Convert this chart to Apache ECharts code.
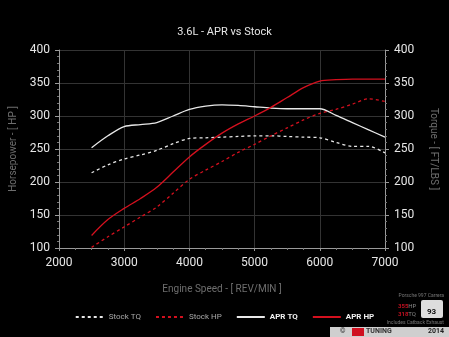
<!DOCTYPE html>
<html>
<head>
<meta charset="utf-8">
<script src="https://cdn.jsdelivr.net/npm/echarts@6/dist/echarts.min.js"></script>
<style>
html,body{margin:0;padding:0;background:#000;}
#dyno{width:449px;height:337px;}
</style>
</head>
<body>
<div id="dyno"></div>
<script>
var rpm      = [2500,2750,3000,3250,3500,3750,4000,4250,4500,4750,5000,5250,5500,5750,6000,6250,6500,6750,7000];
var stockTQ  = [214,226,235,241,248,258,266,267,268,269,270,270,269,268,267,260,254,254,244];
var stockHP  = [101,117,132,147,162,183,204,218,231,245,257,270,282,294,304,310,318,326,322];
var aprTQ    = [252,270,284,287,290,300,310,315,317,316,314,312,311,311,311,301,290,279,268];
var aprHP    = [119,143,160,175,192,215,238,257,274,288,300,313,328,343,353,355,356,356,356];

var xTicks = [2000,7000,1000];
var yTicks = [100,400,50];

function pairs(vals){
	var out=[];
	for(var i=0;i<rpm.length;i++) out.push([rpm[i],vals[i]]);
	return out;
}

var chart = echarts.init(document.getElementById("dyno"));
var red = '#d4101e';
var white = '#e8e8e8';

function yAxis(name, pos, rot, gap){
	return {
		type:'value', position:pos, min:yTicks[0], max:yTicks[1], interval:yTicks[2],
		name:name, nameLocation:'middle', nameGap:gap, nameRotate:rot,
		nameTextStyle:{color:'#6e6e6e', fontSize:10, fontFamily:'Roboto'},
		axisLine:{show:true, lineStyle:{color:'#9a9a9a', width:1}},
		axisTick:{show:true, length:4, lineStyle:{color:'#9a9a9a'}},
		minorTick:{show:true, splitNumber:5, length:2, lineStyle:{color:'#777'}},
		axisLabel:{color:'#e6e6e6', fontSize:12, fontFamily:'Roboto', margin:9},
		splitLine:{show:pos=='left', lineStyle:{color:'#333', width:1}}
	};
}

var option = {
	backgroundColor:'#000',
	animation:false,
	title:{
		text:'3.6L - APR vs Stock', left:'center', top:22,
		textStyle:{color:'#e6e6e6', fontSize:11, fontWeight:'normal', fontFamily:'Roboto'}
	},
	grid:{left:58, right:64, top:50, bottom:89},
	legend:{
		bottom:11, left:'center', itemWidth:28, itemHeight:8, itemGap:14,
		data:['Stock TQ','Stock HP','APR TQ','APR HP'],
		itemStyle:{opacity:0, borderWidth:0},
		formatter:function(n){ return n.indexOf('APR')==0 ? '{b|'+n+'}' : '{n|'+n+'}'; },
		textStyle:{
			rich:{
				n:{color:'#a8a8a8', fontSize:8, fontFamily:'Roboto'},
				b:{color:'#f0f0f0', fontSize:8, fontWeight:'bold', fontFamily:'Roboto'}
			}
		}
	},
	xAxis:{
		type:'value', min:xTicks[0], max:xTicks[1], interval:xTicks[2],
		name:'Engine Speed - [ REV/MIN ]', nameLocation:'middle', nameGap:36,
		nameTextStyle:{color:'#6e6e6e', fontSize:10, fontFamily:'Roboto'},
		axisLine:{lineStyle:{color:'#9a9a9a'}},
		axisTick:{show:true, length:3, lineStyle:{color:'#9a9a9a'}},
		minorTick:{show:true, splitNumber:4, length:2, lineStyle:{color:'#777'}},
		axisLabel:{color:'#e6e6e6', fontSize:12, fontFamily:'Roboto', margin:9, formatter:function(v){ return String(v); }},
		splitLine:{show:true, lineStyle:{color:'#333', width:1}}
	},
	yAxis:[
		yAxis('Horsepower - [ HP ]','left',90,41),
		yAxis('Torque - [ FT/LBS ]','right',-90,43)
	],
	series:[
		{name:'Stock TQ', type:'line', yAxisIndex:1, data:pairs(stockTQ), smooth:0.3, showSymbol:false, symbol:'none',
			lineStyle:{color:white, width:1.3, type:[3,3]}, itemStyle:{color:white}},
		{name:'Stock HP', type:'line', yAxisIndex:0, data:pairs(stockHP), smooth:0.3, showSymbol:false, symbol:'none',
			lineStyle:{color:red, width:1.3, type:[3,3]}, itemStyle:{color:red}},
		{name:'APR TQ', type:'line', yAxisIndex:1, data:pairs(aprTQ), smooth:0.3, showSymbol:false, symbol:'none',
			lineStyle:{color:white, width:1.3}, itemStyle:{color:white}},
		{name:'APR HP', type:'line', yAxisIndex:0, data:pairs(aprHP), smooth:0.3, showSymbol:false, symbol:'none',
			lineStyle:{color:red, width:1.3}, itemStyle:{color:red}}
	],
	graphic:[
		{type:'text', right:5, top:293, style:{text:'Porsche 997 Carrera', fill:'#777', font:'5px Roboto'}},
		{type:'text', left:398, top:303, style:{text:'{r|355}{g|HP}', rich:{r:{fill:'#c01020', font:'bold 6px Roboto'}, g:{fill:'#888', font:'6px Roboto'}}}},
		{type:'text', left:398, top:311, style:{text:'{r|318}{g|TQ}', rich:{r:{fill:'#c01020', font:'bold 6px Roboto'}, g:{fill:'#888', font:'6px Roboto'}}}},
		{type:'rect', left:421, top:300, shape:{width:22, height:18, r:2}, style:{fill:'#ddd'}},
		{type:'text', left:427, top:308, style:{text:'93', fill:'#111', font:'bold 8px Roboto'}},
		{type:'text', right:5, top:320, style:{text:'Includes Catback Exhaust', fill:'#777', font:'5px Roboto'}},
		{type:'rect', left:330, top:327, shape:{width:119, height:10}, style:{fill:'#cfcfcf'}},
		{type:'text', left:340, top:328, style:{text:'©', fill:'#333', font:'bold 7px Roboto'}},
		{type:'rect', left:352, top:328, shape:{width:12, height:8}, style:{fill:'#d01020'}},
		{type:'text', left:366, top:328, style:{text:'TUNING', fill:'#333', font:'bold 7px Roboto'}},
		{type:'text', left:428, top:328, style:{text:'2014', fill:'#222', font:'bold 7px Roboto'}}
	]
};
chart.setOption(option);
</script>
</body>
</html>
